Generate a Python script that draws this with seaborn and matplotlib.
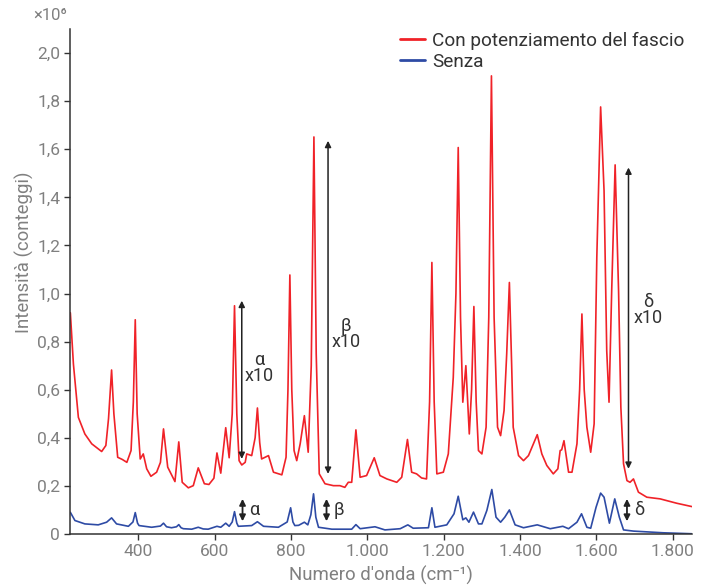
import numpy as np
import pandas as pd
import matplotlib
matplotlib.use("Agg")
import matplotlib.pyplot as plt
import seaborn as sns
from matplotlib.ticker import FuncFormatter, MultipleLocator

# spectrum with beam enhancement (values in units of 1e6 counts)
red_x = [222, 230, 243, 260, 278, 304, 315, 322, 330, 336, 346, 358, 370, 381, 387, 392, 397,
         405, 413, 422, 433, 448, 458, 466, 477, 486, 496, 506, 515, 531, 544, 557, 573, 585,
         598, 606, 616, 629, 638, 646, 652, 658, 664, 671, 680, 684, 697, 706, 712, 718, 723,
         741, 754, 776, 787, 792, 797, 802, 808, 815, 824, 835, 845, 853, 860, 866, 874, 889,
         911, 928, 941, 950, 959, 970, 981, 998, 1018, 1033, 1051, 1077, 1090, 1105, 1116,
         1129, 1142, 1155, 1163, 1169, 1175, 1182, 1199, 1212, 1225, 1232, 1238, 1244, 1250,
         1258, 1267, 1273, 1279, 1285, 1291, 1300, 1311, 1318, 1325, 1332, 1341, 1349, 1358,
         1365, 1372, 1378, 1382, 1396, 1409, 1422, 1435, 1445, 1457, 1470, 1487, 1499, 1505,
         1509, 1515, 1527, 1536, 1549, 1556, 1562, 1568, 1575, 1585, 1594, 1601, 1611, 1620,
         1627, 1633, 1640, 1649, 1658, 1664, 1671, 1680, 1688, 1697, 1710, 1732, 1767, 1810,
         1850]
red_y = [0.92, 0.707, 0.485, 0.416, 0.375, 0.343, 0.368, 0.48, 0.682, 0.5, 0.319, 0.31, 0.298,
         0.347, 0.55, 0.891, 0.5, 0.312, 0.333, 0.271, 0.24, 0.257, 0.298, 0.437, 0.278, 0.25,
         0.218, 0.383, 0.215, 0.192, 0.201, 0.275, 0.209, 0.206, 0.232, 0.337, 0.253, 0.442,
         0.317, 0.5, 0.949, 0.5, 0.305, 0.287, 0.298, 0.333, 0.326, 0.4, 0.524, 0.38, 0.312,
         0.326, 0.257, 0.246, 0.319, 0.6, 1.077, 0.6, 0.347, 0.305, 0.375, 0.492, 0.34, 0.7,
         1.651, 0.75, 0.25, 0.209, 0.201, 0.201, 0.194, 0.215, 0.215, 0.433, 0.236, 0.243,
         0.317, 0.243, 0.229, 0.215, 0.236, 0.393, 0.257, 0.25, 0.233, 0.229, 0.55, 1.129, 0.55,
         0.25, 0.257, 0.333, 0.651, 1.0, 1.607, 0.9, 0.548, 0.7, 0.416, 0.6, 0.946, 0.55, 0.347,
         0.333, 0.444, 0.9, 1.905, 0.9, 0.444, 0.409, 0.513, 0.75, 1.046, 0.7, 0.444, 0.326,
         0.305, 0.326, 0.375, 0.413, 0.333, 0.285, 0.25, 0.271, 0.347, 0.35, 0.388, 0.257,
         0.257, 0.375, 0.6, 0.915, 0.6, 0.444, 0.34, 0.458, 1.15, 1.776, 1.427, 0.762, 0.548,
         1.012, 1.535, 1.012, 0.527, 0.292, 0.222, 0.215, 0.229, 0.174, 0.153, 0.146, 0.128,
         0.114]

# spectrum without enhancement
blue_x = [222, 234, 260, 295, 317, 330, 343, 374, 386, 392, 398, 402, 435, 458, 466, 474, 487,
          500, 506, 512, 518, 540, 557, 570, 583, 606, 616, 629, 638, 646, 652, 658, 662, 697,
          712, 728, 767, 790, 799, 805, 810, 820, 835, 844, 852, 859, 865, 872, 907, 959, 970,
          981, 1020, 1046, 1086, 1106, 1120, 1160, 1169, 1177, 1208, 1227, 1238, 1250, 1258,
          1266, 1278, 1291, 1300, 1313, 1326, 1337, 1349, 1360, 1372, 1387, 1409, 1445, 1479,
          1512, 1527, 1549, 1561, 1575, 1585, 1599, 1611, 1620, 1634, 1648, 1660, 1671, 1697,
          1775, 1850]
blue_y = [0.09, 0.056, 0.042, 0.038, 0.049, 0.067, 0.042, 0.032, 0.05, 0.089, 0.045, 0.035,
          0.028, 0.033, 0.045, 0.03, 0.026, 0.03, 0.039, 0.026, 0.022, 0.02, 0.028, 0.021, 0.02,
          0.032, 0.028, 0.045, 0.032, 0.05, 0.093, 0.045, 0.032, 0.035, 0.051, 0.032, 0.028,
          0.05, 0.109, 0.05, 0.035, 0.036, 0.049, 0.038, 0.08, 0.167, 0.07, 0.028, 0.02, 0.02,
          0.039, 0.022, 0.03, 0.017, 0.022, 0.038, 0.024, 0.026, 0.109, 0.028, 0.038, 0.084,
          0.157, 0.059, 0.067, 0.049, 0.091, 0.042, 0.042, 0.098, 0.185, 0.07, 0.049, 0.07, 0.1,
          0.038, 0.026, 0.038, 0.022, 0.032, 0.022, 0.049, 0.084, 0.028, 0.024, 0.111, 0.17,
          0.153, 0.045, 0.146, 0.07, 0.017, 0.012, 0.005, 0.001]

series_names = ["Con potenziamento del fascio", "Senza"]

# annotated bands
band_labels = ["α", "β", "δ"]
big_arrow_x = [671, 897, 1684]
big_arrow_lo = [0.312, 0.25, 0.271]
big_arrow_hi = [0.97, 1.635, 1.524]
big_label_x = [717, 944, 1735]
big_label_y = [0.725, 0.865, 0.965]
small_arrow_x = [673, 893, 1680]

sns.set_theme(style="ticks")
plt.rcParams["font.family"] = ["Roboto", "DejaVu Sans"]

df = pd.concat([
    pd.DataFrame({"x": red_x, "y": red_y, "serie": series_names[0]}),
    pd.DataFrame({"x": blue_x, "y": blue_y, "serie": series_names[1]}),
])

fig = plt.figure(figsize=(7.14, 5.87), dpi=100)
ax = fig.add_axes([0.098, 0.0903, 0.871, 0.8603])

sns.lineplot(data=df, x="x", y="y", hue="serie", estimator=None, sort=False,
             palette=["#f02228", "#2e4ba5"], linewidth=1.2, ax=ax)

ax.set_xlim(221, 1850)
ax.set_ylim(0, 2.1)
ax.xaxis.set_major_locator(MultipleLocator(200))
ax.yaxis.set_major_locator(MultipleLocator(0.2))
ax.xaxis.set_major_formatter(FuncFormatter(lambda v, p: f"{int(round(v)):,}".replace(",", ".")))
ax.yaxis.set_major_formatter(FuncFormatter(lambda v, p: "0" if abs(v) < 1e-9 else f"{v:.1f}".replace(".", ",")))

sns.despine(ax=ax)
for s in ["left", "bottom"]:
    ax.spines[s].set_color("#333333")
    ax.spines[s].set_linewidth(1.1)
ax.tick_params(axis="both", colors="#333333", labelcolor="#808080", labelsize=12.5,
               length=4, width=1, direction="out", pad=3)

ax.set_xlabel("Numero d'onda (cm⁻¹)", fontsize=13.4, color="#808080", labelpad=5)
ax.set_ylabel("Intensità (conteggi)", fontsize=13.4, color="#808080")
ax.yaxis.set_label_coords(-0.058, 0.557)
fig.text(33 / 714, 1 - 15 / 587, "×10⁶", fontsize=12, color="#808080", va="center")

leg = ax.legend(loc="upper right", bbox_to_anchor=(0.993, 1.0), frameon=False, fontsize=13.7,
                handlelength=1.3, handletextpad=0.4, labelspacing=0.15, borderaxespad=0.0,
                borderpad=0.15)
for t in leg.get_texts():
    t.set_color("#333333")
for h in leg.get_lines():
    h.set_linewidth(2)

for lab, bx, lo, hi, lx, ly, sx in zip(band_labels, big_arrow_x, big_arrow_lo, big_arrow_hi,
                                        big_label_x, big_label_y, small_arrow_x):
    ax.annotate("", xy=(bx, hi), xytext=(bx, lo),
                arrowprops=dict(arrowstyle="<|-|>", color="#222222", lw=1.1, mutation_scale=9,
                                shrinkA=0, shrinkB=0))
    ax.text(lx, ly, lab, fontsize=13, color="#333333", ha="center", va="center")
    ax.text(lx, ly - 0.068, "x10", fontsize=13, color="#333333", ha="center", va="center")
    ax.annotate("", xy=(sx, 0.146), xytext=(sx, 0.053),
                arrowprops=dict(arrowstyle="<|-|>", color="#222222", lw=1.3,
                                mutation_scale=9, shrinkA=0, shrinkB=0))
    ax.text(sx + 18, 0.1, lab, fontsize=13, color="#333333", ha="left", va="center")

fig.savefig("out.png", dpi=100)
